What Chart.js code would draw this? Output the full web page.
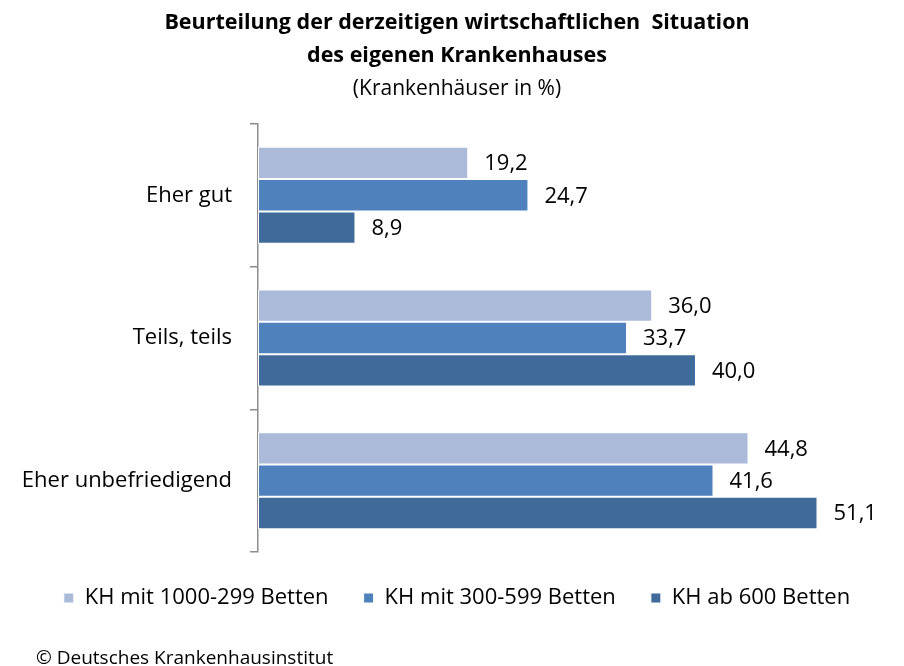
<!DOCTYPE html>
<html>
<head>
<meta charset="utf-8">
<script src="https://cdn.jsdelivr.net/npm/chart.js@4.4.0/dist/chart.umd.min.js"></script>
<style>
  body { margin: 0; background: #fff; }
  #wrap { position: relative; width: 904px; height: 666px; }
  #source { position: absolute; left: 36px; top: 644px; font: 19px "Open Sans", sans-serif; color: #000; letter-spacing: 0; }
</style>
</head>
<body>
<div id="wrap">
  <canvas id="chart" width="904" height="666"></canvas>
  <div id="source">© Deutsches Krankenhausinstitut</div>
</div>
<script>
const categories = ['Eher gut', 'Teils, teils', 'Eher unbefriedigend'];
const seriesNames = ['KH mit 1000-299 Betten', 'KH mit 300-599 Betten', 'KH ab 600 Betten'];
const smallHospitals = [19.2, 36.0, 44.8];
const mediumHospitals = [24.7, 33.7, 41.6];
const largeHospitals = [8.9, 40.0, 51.1];
const colors = ['#AABAD8', '#4F81BD', '#3F6A9A'];

const fontFamily = '"Open Sans", sans-serif';

// write the value beside each bar, German decimal comma
const valueLabels = {
    id: 'valueLabels',
    afterDatasetsDraw(chart) {
        const ctx = chart.ctx;
        ctx.save();
        ctx.font = '22px ' + fontFamily;
        ctx.fillStyle = '#000';
        ctx.textBaseline = 'middle';
        ctx.textAlign = 'left';
        chart.data.datasets.forEach((ds, i) => {
            chart.getDatasetMeta(i).data.forEach((bar, j) => {
                const txt = ds.data[j].toFixed(1).replace('.', ',');
                ctx.fillText(txt, bar.x + 16, bar.y + 1);
            });
        });
        ctx.restore();
    }
};

new Chart(document.getElementById('chart'), {
    type: 'bar',
    data: {
        labels: categories,
        datasets: [
            { label: seriesNames[0], data: smallHospitals, backgroundColor: colors[0] },
            { label: seriesNames[1], data: mediumHospitals, backgroundColor: colors[1] },
            { label: seriesNames[2], data: largeHospitals, backgroundColor: colors[2] },
        ].map(d => ({ ...d, borderColor: '#fff', borderWidth: 1, borderSkipped: false,
                       categoryPercentage: 0.68, barPercentage: 1 })),
    },
    options: {
        indexAxis: 'y',
        responsive: false,
        animation: false,
        layout: { padding: { left: 10, right: 0, top: 5, bottom: 47 } },
        scales: {
            x: { display: false, min: 0, max: 59 },
            y: {
                afterFit(scale) { scale.width = 248; },
                grid: { drawOnChartArea: false, drawTicks: true, tickLength: 8, color: '#8c8c8c', lineWidth: 1.5 },
                border: { display: true, color: '#8c8c8c', width: 1.5 },
                ticks: { color: '#000', font: { size: 22, family: fontFamily }, padding: 18 },
            },
        },
        plugins: {
            legend: {
                position: 'bottom',
                labels: {
                    color: '#000',
                    font: { size: 22, family: fontFamily },
                    boxWidth: 10, boxHeight: 10, padding: 35,
                },
            },
            title: {
                display: true,
                text: ['Beurteilung der derzeitigen wirtschaftlichen  Situation', 'des eigenen Krankenhauses'],
                color: '#000',
                font: { size: 21.5, weight: 'bold', family: fontFamily, lineHeight: 1.52 },
                padding: { top: 2, bottom: 0 },
            },
            subtitle: {
                display: true,
                text: '(Krankenhäuser in %)',
                color: '#000',
                font: { size: 21, family: fontFamily, lineHeight: 1.55 },
                padding: { top: 0, bottom: 19 },
            },
            tooltip: { enabled: false },
        },
    },
    plugins: [valueLabels],
});
</script>
</body>
</html>
